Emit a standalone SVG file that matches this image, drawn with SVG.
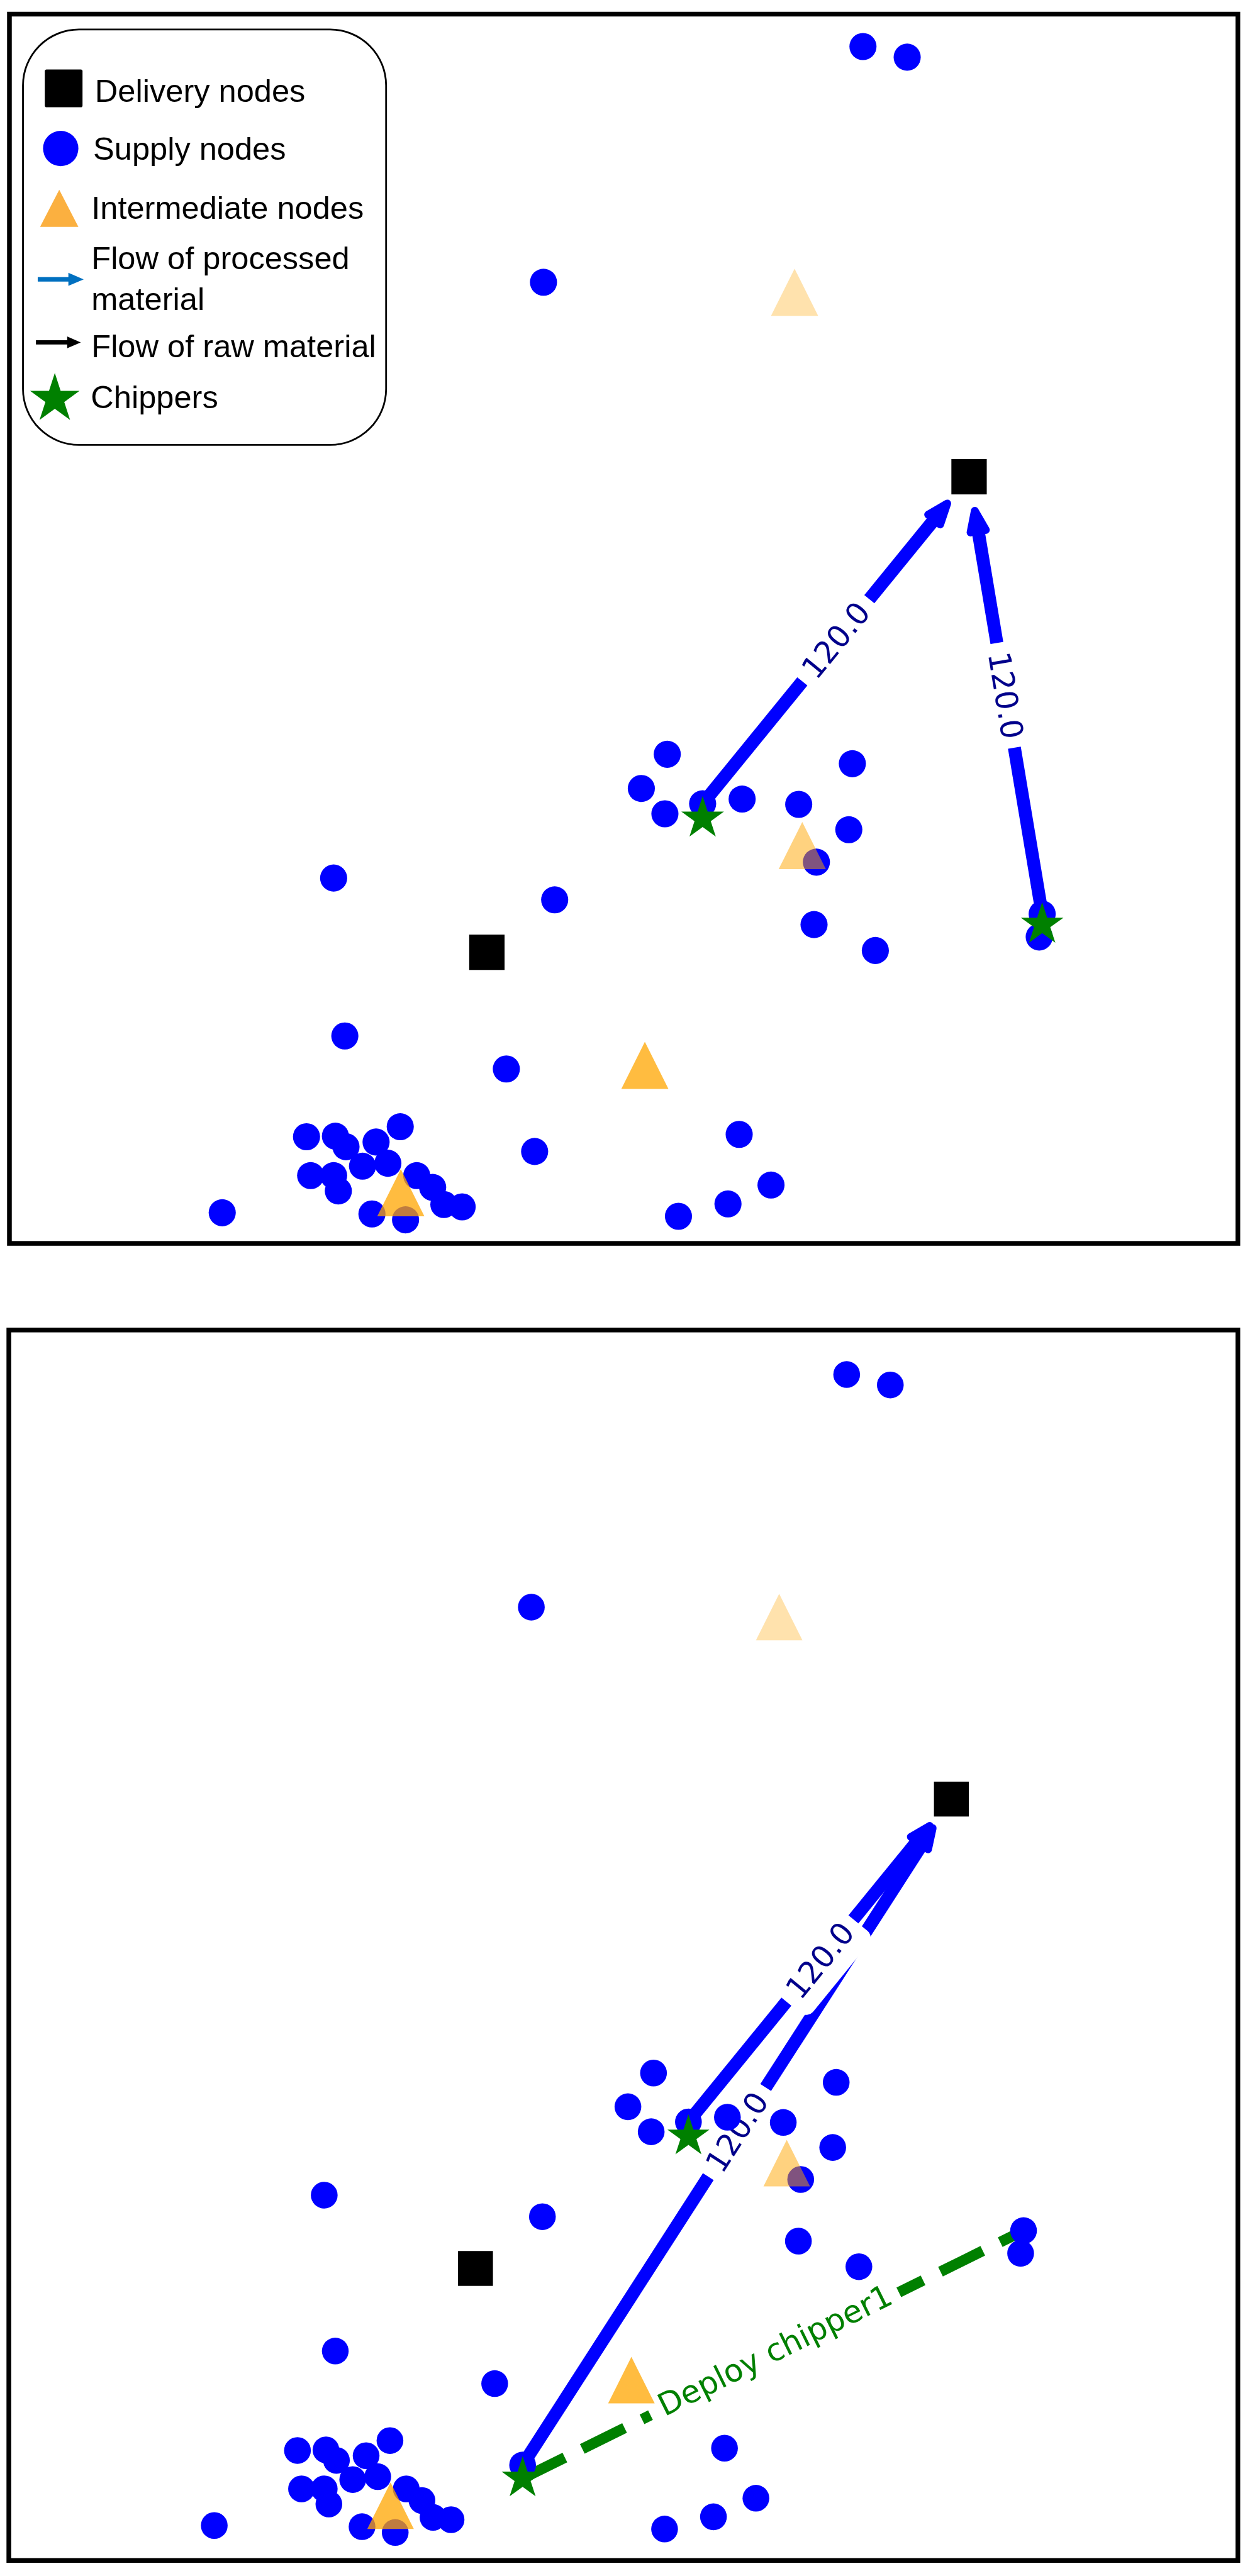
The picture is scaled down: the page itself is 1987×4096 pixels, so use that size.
<svg xmlns="http://www.w3.org/2000/svg" xmlns:xlink="http://www.w3.org/1999/xlink" width="1987" height="4096" viewBox="0 0 1987 4096">
<style>
.bg{fill:#fff}
.frame{fill:none;stroke:#000;stroke-width:8}
.legbox{fill:#fff;stroke:#000;stroke-width:3}
.leg{font-family:"Liberation Sans",Arial,sans-serif;font-size:54px;fill:#000}
.sup{fill:#0000ff}
.dlv{fill:#000}
.chip{fill:#008000}
.i30{fill:#ffa500;fill-opacity:0.32}
.i50{fill:#ffa500;fill-opacity:0.5}
.i75{fill:#ffa500;fill-opacity:0.75}
.flow{fill:none;stroke:#0000ff;stroke-width:22;marker-end:url(#ah)}
.flowb{fill:none;stroke:#0000ff;stroke-width:21.7;marker-end:url(#ah)}
.lblbox{fill:#fff}
.lbl{font-family:"DejaVu Sans",sans-serif;font-size:52px;fill:#00008b;text-anchor:middle}
.dep{fill:none;stroke:#008000;stroke-width:18;stroke-dasharray:80 33}
.deptxt{font-family:"DejaVu Sans",sans-serif;font-size:53px;fill:#008000;text-anchor:middle}
</style>
<defs>
<marker id="ah" viewBox="-0.5 -1.2 3 2.4" markerWidth="3" markerHeight="2.4" refX="0" refY="0" orient="auto" markerUnits="strokeWidth">
<path d="M0,-0.6 L1.6,0 L0,0.6 Z" fill="#0000ff" stroke="#0000ff" stroke-width="0.6" stroke-linejoin="round"/>
</marker>
<polygon id="star" class="chip" points="0,-38 8.52,-11.73 36.14,-11.74 13.79,4.48 22.34,30.74 0,14.5 -22.34,30.74 -13.79,4.48 -36.14,-11.74 -8.52,-11.73"/>
<polygon id="tri" points="0,-40 40,40 -40,40"/>
</defs>
<rect class="bg" x="0" y="0" width="1987" height="4096"/>
<g transform="scale(0.937)">

<!-- ================= TOP PANEL ================= -->
<g id="panel-top">
<rect class="frame" x="16" y="24" width="2084" height="2086"/>

<g id="top-connectors">
<path class="flow" d="M1192,1364 L1584.8,881.7"/>
<path class="flow" d="M1768,1551 L1659.5,901.5"/>
<g transform="translate(1418 1086.5) rotate(-50.84)"><rect class="lblbox" x="-90" y="-46" width="180" height="92" rx="16"/><text class="lbl" y="18">120.0</text></g>
<g transform="translate(1706 1180) rotate(80.51)"><rect class="lblbox" x="-90" y="-46" width="180" height="92" rx="16"/><text class="lbl" y="18">120.0</text></g>
</g>

<g id="top-nodes">
<g id="t-s1"><circle class="sup" cx="1464" cy="79" r="23"/></g>
<g id="t-s2"><circle class="sup" cx="1539" cy="97" r="23"/></g>
<g id="t-s3"><circle class="sup" cx="922" cy="479" r="23"/></g>
<g id="t-s4"><circle class="sup" cx="1132" cy="1280" r="23"/></g>
<g id="t-s5"><circle class="sup" cx="1088" cy="1338" r="23"/></g>
<g id="t-s6"><circle class="sup" cx="1128" cy="1381" r="23"/></g>
<g id="t-s7"><circle class="sup" cx="1192" cy="1364" r="23"/></g>
<g id="t-s8"><circle class="sup" cx="1259" cy="1356" r="23"/></g>
<g id="t-s9"><circle class="sup" cx="1355" cy="1365" r="23"/></g>
<g id="t-s10"><circle class="sup" cx="1446" cy="1296" r="23"/></g>
<g id="t-s11"><circle class="sup" cx="1440" cy="1408" r="23"/></g>
<g id="t-s12"><circle class="sup" cx="1385" cy="1463" r="23"/></g>
<g id="t-s13"><circle class="sup" cx="566" cy="1490" r="23"/></g>
<g id="t-s14"><circle class="sup" cx="941" cy="1527" r="23"/></g>
<g id="t-s15"><circle class="sup" cx="1381" cy="1569" r="23"/></g>
<g id="t-s16"><circle class="sup" cx="1485" cy="1613" r="23"/></g>
<g id="t-s17"><circle class="sup" cx="1768" cy="1551" r="23"/></g>
<g id="t-s18"><circle class="sup" cx="1763" cy="1590" r="23"/></g>
<g id="t-s19"><circle class="sup" cx="585" cy="1758" r="23"/></g>
<g id="t-s20"><circle class="sup" cx="859" cy="1814" r="23"/></g>
<g id="t-s21"><circle class="sup" cx="1254" cy="1925" r="23"/></g>
<g id="t-s22"><circle class="sup" cx="907" cy="1954" r="23"/></g>
<g id="t-s23"><circle class="sup" cx="1308" cy="2011" r="23"/></g>
<g id="t-s24"><circle class="sup" cx="1235" cy="2043" r="23"/></g>
<g id="t-s25"><circle class="sup" cx="1151" cy="2064" r="23"/></g>
<g id="t-s26"><circle class="sup" cx="377" cy="2058" r="23"/></g>
<g id="t-s27"><circle class="sup" cx="520" cy="1929" r="23"/></g>
<g id="t-s28"><circle class="sup" cx="569" cy="1928" r="23"/></g>
<g id="t-s29"><circle class="sup" cx="587" cy="1946" r="23"/></g>
<g id="t-s30"><circle class="sup" cx="638" cy="1938" r="23"/></g>
<g id="t-s31"><circle class="sup" cx="679" cy="1912" r="23"/></g>
<g id="t-s32"><circle class="sup" cx="527" cy="1995" r="23"/></g>
<g id="t-s33"><circle class="sup" cx="566" cy="1995" r="23"/></g>
<g id="t-s34"><circle class="sup" cx="574" cy="2021" r="23"/></g>
<g id="t-s35"><circle class="sup" cx="615" cy="1979" r="23"/></g>
<g id="t-s36"><circle class="sup" cx="658" cy="1974" r="23"/></g>
<g id="t-s37"><circle class="sup" cx="707" cy="1995" r="23"/></g>
<g id="t-s38"><circle class="sup" cx="734" cy="2015" r="23"/></g>
<g id="t-s39"><circle class="sup" cx="753" cy="2044" r="23"/></g>
<g id="t-s40"><circle class="sup" cx="784" cy="2048" r="23"/></g>
<g id="t-s41"><circle class="sup" cx="631" cy="2060" r="23"/></g>
<g id="t-s42"><circle class="sup" cx="688" cy="2070" r="23"/></g>
<g id="t-i1"><use xlink:href="#tri" class="i30" x="1348" y="496"/></g>
<g id="t-i2"><use xlink:href="#tri" class="i50" x="1361" y="1435"/></g>
<g id="t-i3"><use xlink:href="#tri" class="i75" x="1094" y="1808"/></g>
<g id="t-i4"><use xlink:href="#tri" class="i75" x="680" y="2024"/></g>
<g id="t-d1"><rect class="dlv" x="1614" y="779" width="60" height="60"/></g>
<g id="t-d2"><rect class="dlv" x="796" y="1586" width="60" height="60"/></g>
<g id="t-c1"><use xlink:href="#star" x="1192" y="1389"/></g>
<g id="t-c2"><use xlink:href="#star" x="1768" y="1569"/></g>
</g>

<g id="legend">
<rect class="legbox" x="39" y="50" width="616" height="705" rx="95" ry="95"/>
<rect class="dlv" x="76" y="118" width="64" height="64" rx="3"/>
<text class="leg" x="161" y="173">Delivery nodes</text>
<circle class="sup" cx="103" cy="252" r="30"/>
<text class="leg" x="158" y="271">Supply nodes</text>
<polygon points="100.5,322 133,385 68,385" fill="#fbb040"/>
<text class="leg" x="155" y="371">Intermediate nodes</text>
<line x1="64" y1="474" x2="120" y2="474" stroke="#0070c0" stroke-width="7.5"/>
<polygon points="116,463 142,474 116,485" fill="#0070c0"/>
<text class="leg" x="155" y="457">Flow of processed</text>
<text class="leg" x="155" y="526">material</text>
<line x1="61" y1="581" x2="118" y2="581" stroke="#000" stroke-width="7"/>
<polygon points="114,571 137,581 114,591" fill="#000"/>
<text class="leg" x="155" y="606">Flow of raw material</text>
<use xlink:href="#star" transform="translate(93 677) scale(1.16)"/>
<text class="leg" x="154" y="693">Chippers</text>
</g>
</g>

<!-- ================= BOTTOM PANEL ================= -->
<g id="panel-bottom">
<rect class="frame" x="15" y="2257" width="2085" height="2088"/>

<g id="bottom-connectors">
<path class="flowb" d="M1167.9,3600.8 L1555.2,3125.3"/>
<path class="flowb" d="M886.6,4183.1 L1563.6,3131.3"/>
<path class="dep" d="M886.6,4205.8 L1736.4,3785.3"/>
<g transform="translate(1391 3326.9) rotate(-50.84)"><rect class="lblbox" x="-90" y="-46" width="180" height="92" rx="16"/><text class="lbl" y="18">120.0</text></g>
<g transform="translate(1250.3 3618.1) rotate(-57.23)"><rect class="lblbox" x="-90" y="-46" width="180" height="92" rx="16"/><text class="lbl" y="18">120.0</text></g>
<g transform="translate(1311.5 3995.5) rotate(-26.33)"><rect class="lblbox" x="-232" y="-47" width="470" height="94" rx="16"/><text class="deptxt" x="6" y="13">Deploy chipper1</text></g>
</g>

<g id="bottom-nodes" transform="translate(-8.6 2254.5) scale(0.987)">
<g id="b-s1"><circle class="sup" cx="1464" cy="79" r="23"/></g>
<g id="b-s2"><circle class="sup" cx="1539" cy="97" r="23"/></g>
<g id="b-s3"><circle class="sup" cx="922" cy="479" r="23"/></g>
<g id="b-s4"><circle class="sup" cx="1132" cy="1280" r="23"/></g>
<g id="b-s5"><circle class="sup" cx="1088" cy="1338" r="23"/></g>
<g id="b-s6"><circle class="sup" cx="1128" cy="1381" r="23"/></g>
<g id="b-s7"><circle class="sup" cx="1192" cy="1364" r="23"/></g>
<g id="b-s8"><circle class="sup" cx="1259" cy="1356" r="23"/></g>
<g id="b-s9"><circle class="sup" cx="1355" cy="1365" r="23"/></g>
<g id="b-s10"><circle class="sup" cx="1446" cy="1296" r="23"/></g>
<g id="b-s11"><circle class="sup" cx="1440" cy="1408" r="23"/></g>
<g id="b-s12"><circle class="sup" cx="1385" cy="1463" r="23"/></g>
<g id="b-s13"><circle class="sup" cx="566" cy="1490" r="23"/></g>
<g id="b-s14"><circle class="sup" cx="941" cy="1527" r="23"/></g>
<g id="b-s15"><circle class="sup" cx="1381" cy="1569" r="23"/></g>
<g id="b-s16"><circle class="sup" cx="1485" cy="1613" r="23"/></g>
<g id="b-s17"><circle class="sup" cx="1768" cy="1551" r="23"/></g>
<g id="b-s18"><circle class="sup" cx="1763" cy="1590" r="23"/></g>
<g id="b-s19"><circle class="sup" cx="585" cy="1758" r="23"/></g>
<g id="b-s20"><circle class="sup" cx="859" cy="1814" r="23"/></g>
<g id="b-s21"><circle class="sup" cx="1254" cy="1925" r="23"/></g>
<g id="b-s22"><circle class="sup" cx="907" cy="1954" r="23"/></g>
<g id="b-s23"><circle class="sup" cx="1308" cy="2011" r="23"/></g>
<g id="b-s24"><circle class="sup" cx="1235" cy="2043" r="23"/></g>
<g id="b-s25"><circle class="sup" cx="1151" cy="2064" r="23"/></g>
<g id="b-s26"><circle class="sup" cx="377" cy="2058" r="23"/></g>
<g id="b-s27"><circle class="sup" cx="520" cy="1929" r="23"/></g>
<g id="b-s28"><circle class="sup" cx="569" cy="1928" r="23"/></g>
<g id="b-s29"><circle class="sup" cx="587" cy="1946" r="23"/></g>
<g id="b-s30"><circle class="sup" cx="638" cy="1938" r="23"/></g>
<g id="b-s31"><circle class="sup" cx="679" cy="1912" r="23"/></g>
<g id="b-s32"><circle class="sup" cx="527" cy="1995" r="23"/></g>
<g id="b-s33"><circle class="sup" cx="566" cy="1995" r="23"/></g>
<g id="b-s34"><circle class="sup" cx="574" cy="2021" r="23"/></g>
<g id="b-s35"><circle class="sup" cx="615" cy="1979" r="23"/></g>
<g id="b-s36"><circle class="sup" cx="658" cy="1974" r="23"/></g>
<g id="b-s37"><circle class="sup" cx="707" cy="1995" r="23"/></g>
<g id="b-s38"><circle class="sup" cx="734" cy="2015" r="23"/></g>
<g id="b-s39"><circle class="sup" cx="753" cy="2044" r="23"/></g>
<g id="b-s40"><circle class="sup" cx="784" cy="2048" r="23"/></g>
<g id="b-s41"><circle class="sup" cx="631" cy="2060" r="23"/></g>
<g id="b-s42"><circle class="sup" cx="688" cy="2070" r="23"/></g>
<g id="b-i1"><use xlink:href="#tri" class="i30" x="1348" y="496"/></g>
<g id="b-i2"><use xlink:href="#tri" class="i50" x="1361" y="1435"/></g>
<g id="b-i3"><use xlink:href="#tri" class="i75" x="1094" y="1808"/></g>
<g id="b-i4"><use xlink:href="#tri" class="i75" x="680" y="2024"/></g>
<g id="b-d1"><rect class="dlv" x="1614" y="779" width="60" height="60"/></g>
<g id="b-d2"><rect class="dlv" x="796" y="1586" width="60" height="60"/></g>
<g id="b-c1"><use xlink:href="#star" x="1192" y="1389"/></g>
<g id="b-c2"><use xlink:href="#star" x="907" y="1977"/></g>
</g>
</g>

</g>
</svg>
